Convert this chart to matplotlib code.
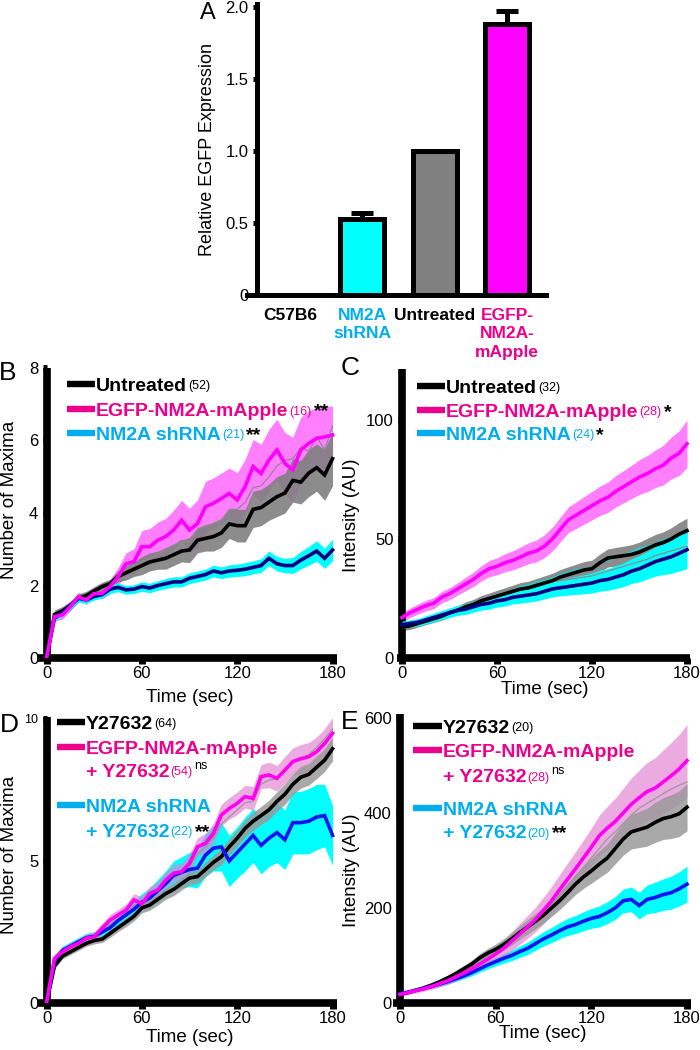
import matplotlib
matplotlib.use('Agg')
import matplotlib.pyplot as plt
from matplotlib.lines import Line2D
import numpy as np

plt.rcParams['font.family'] = ['Liberation Sans', 'DejaVu Sans']

# ---------------- data ----------------
# Panel A
bar_labels = ['C57B6', 'NM2A\nshRNA', 'Untreated', 'EGFP-\nNM2A-\nmApple']
bar_label_colors = ['#000000', '#00aeef', '#000000', '#ec008c']
bar_vals = [0.0, 0.53, 1.0, 1.88]
bar_errs = [0.0, 0.04, 0.0, 0.09]
bar_colors = ['#ffffff', '#00ffff', '#808080', '#ff00ff']

time_s = [0, 5, 10, 15, 20, 25, 30, 35, 40, 45, 50, 55, 60, 65, 70, 75, 80, 85, 90,
          95, 100, 105, 110, 115, 120, 125, 130, 135, 140, 145, 150, 155, 160, 165, 170, 175, 180]

# Panel B: number of maxima
B_untr = [0, 1.2, 1.3, 1.45, 1.65, 1.72, 1.85, 1.97, 2.05, 2.25, 2.35, 2.45, 2.55, 2.65, 2.7, 2.75, 2.85, 2.95, 2.98,
          3.25, 3.3, 3.35, 3.45, 3.7, 3.65, 3.65, 4.1, 4.15, 4.3, 4.45, 4.55, 4.9, 4.85, 5.1, 5.25, 5.05, 5.5]
B_untr_err = [0, .12, .12, .12, .12, .12, .12, .12, .12, .15, .2, .2, .25, .25, .25, .3, .3, .3, .35,
              .35, .35, .4, .4, .4, .45, .45, .5, .5, .5, .55, .55, .6, .6, .65, .65, .7, .75]
B_egfp = [0, 1.14, 1.19, 1.42, 1.69, 1.6, 1.78, 1.78, 1.97, 2.24, 2.6, 2.66, 3.07, 3.07, 3.25, 3.35, 3.53, 3.8, 3.53,
          3.71, 4.17, 4.27, 4.4, 4.54, 4.36, 4.73, 5.28, 5.09, 5.46, 5.74, 5.37, 5.19, 5.74, 5.92, 6.06, 6.1, 6.15]
B_egfp_err = [0, .12, .12, .12, .12, .12, .12, .15, .2, .25, .3, .35, .45, .5, .5, .5, .55, .55, .6,
              .65, .7, .7, .7, .7, .75, .75, .75, .8, .85, .85, .85, .9, .9, .9, .85, .85, .8]
B_sh = [0, 1.1, 1.25, 1.45, 1.65, 1.6, 1.7, 1.75, 1.9, 1.95, 1.88, 1.9, 1.97, 1.93, 2.0, 2.05, 2.1, 2.1, 2.2,
        2.25, 2.3, 2.4, 2.35, 2.4, 2.42, 2.45, 2.5, 2.55, 2.75, 2.6, 2.55, 2.55, 2.7, 2.82, 2.95, 2.75, 2.98]
B_sh_err = [0, .1, .1, .1, .1, .1, .1, .1, .12, .12, .12, .12, .13, .13, .13, .14, .14, .14, .15,
            .15, .15, .16, .16, .17, .17, .18, .18, .19, .2, .2, .2, .22, .24, .26, .28, .28, .3]
B_thin = [0, 1.15, 1.25, 1.4, 1.65, 1.65, 1.8, 1.85, 2.0, 2.3, 2.45, 2.55, 2.65, 2.75, 2.85, 3.0, 3.1, 3.25, 3.2,
          3.55, 3.65, 3.7, 3.8, 4.1, 4.1, 4.3, 4.7, 4.75, 5.0, 5.3, 5.45, 5.5, 5.8, 5.7, 6.1, 5.75, 6.4]

# Panel C: intensity
C_untr = [13, 13.5, 14.5, 15.5, 16.5, 17.5, 19, 20, 21.5, 22.5, 24, 25, 26, 27, 28, 29, 29.5, 30.5, 31.5,
          32.5, 34, 35, 36, 37, 37.5, 40, 42, 42.5, 43, 43.5, 44.5, 46, 47.5, 48.5, 50, 52, 53.5]
C_untr_err = [1.5, 1.5, 1.5, 1.5, 1.6, 1.7, 1.8, 1.9, 2, 2.1, 2.2, 2.3, 2.4, 2.5, 2.6, 2.7, 2.8, 2.9, 3,
              3.1, 3.2, 3.3, 3.4, 3.5, 3.6, 3.7, 3.8, 3.9, 4, 4.1, 4.2, 4.3, 4.4, 4.5, 4.7, 4.9, 5.2]
C_egfp = [17, 19, 20.5, 22, 23, 25.5, 27, 29, 31, 33, 35.5, 37.5, 38.5, 40, 41, 42.5, 44, 45, 47,
          50, 54, 58, 60, 62, 64, 66, 67.5, 70, 72, 74, 76, 77.5, 79.5, 81, 84, 86, 90]
C_egfp_err = [2, 2, 2.1, 2.2, 2.3, 2.4, 2.5, 2.6, 2.8, 3, 3.2, 3.4, 3.6, 3.8, 4, 4.2, 4.4, 4.6, 4.8,
              5, 5.2, 5.4, 5.6, 5.8, 6, 6.2, 6.4, 6.6, 6.8, 7, 7.3, 7.6, 7.9, 8.3, 8.8, 9.4, 10]
C_sh = [14, 14.5, 15, 16, 17, 18, 19, 20, 20.5, 21.5, 22.5, 23, 24, 24.5, 25.5, 26, 26.5, 27, 28,
        29, 29.5, 30, 30.5, 31, 31.5, 32.5, 33, 34, 35, 36.5, 37.5, 39, 40.5, 41.5, 42.5, 44, 45.5]
C_sh_err = [1.5, 1.5, 1.6, 1.7, 1.8, 1.9, 2, 2.1, 2.2, 2.3, 2.4, 2.5, 2.6, 2.7, 2.8, 2.9, 3, 3.1, 3.2,
            3.3, 3.4, 3.6, 3.8, 4, 4.2, 4.4, 4.6, 4.8, 5, 5.2, 5.5, 5.8, 6.1, 6.5, 7, 7.5, 8]
C_thin = [13.5, 14, 15, 16, 17, 18, 19.5, 20.5, 21.5, 22.5, 23.5, 24.5, 25.5, 26.5, 27.5, 28.5, 29, 30, 31,
          32, 32.5, 33, 33.5, 34, 34.5, 35.5, 36.5, 37.5, 38.5, 39.5, 40.5, 41.5, 43, 44, 45, 46, 47]
C_thin_cyan = [12.5, 13.5, 14.5, 15.5, 16.5, 17.5, 19, 20, 21.5, 22.5, 24, 25.5, 26.5, 27.5, 28.5, 30, 30.5, 32, 32.5,
               33.5, 35, 36, 37, 37.5, 38, 40, 41, 42, 43.5, 44.5, 46, 47, 48, 49.5, 50.5, 51.5, 52.5]

# Panel D: number of maxima + Y27632
D_y = [0, 1.3, 1.65, 1.8, 1.95, 2.1, 2.2, 2.25, 2.45, 2.65, 2.85, 3.05, 3.35, 3.45, 3.65, 3.85, 4.0, 4.2, 4.4,
       4.45, 4.7, 4.95, 5.15, 5.5, 5.8, 6.15, 6.4, 6.6, 6.8, 7.1, 7.35, 7.7, 7.95, 8.05, 8.3, 8.55, 8.95]
D_y_err = [0, .1, .1, .1, .1, .1, .12, .12, .14, .14, .16, .16, .18, .18, .2, .2, .22, .22, .24,
           .24, .26, .26, .28, .28, .3, .3, .32, .32, .34, .34, .36, .36, .38, .38, .4, .4, .42]
D_egfp = [0, 1.57, 1.8, 1.98, 2.1, 2.28, 2.33, 2.63, 2.92, 3.1, 3.27, 3.63, 3.5, 3.86, 3.98, 4.33, 4.57, 4.62, 4.92,
          5.5, 5.62, 5.97, 6.62, 6.85, 7.03, 7.27, 7.2, 7.97, 8.03, 7.91, 8.2, 8.5, 8.6, 8.67, 8.85, 9.14, 9.5]
D_egfp_err = [0, .15, .15, .15, .15, .15, .18, .18, .2, .2, .22, .22, .25, .25, .28, .28, .3, .3, .32,
              .32, .35, .35, .38, .38, .4, .4, .42, .42, .45, .45, .48, .48, .5, .5, .52, .52, .55]
D_sh = [0, 1.5, 1.85, 2.0, 2.15, 2.3, 2.35, 2.5, 2.65, 2.9, 3.1, 3.3, 3.55, 3.7, 3.95, 4.2, 4.5, 4.6, 4.7,
        4.75, 5.2, 5.45, 5.5, 5.0, 5.3, 5.6, 5.9, 5.55, 5.8, 6.0, 5.75, 6.35, 6.35, 6.4, 6.55, 6.6, 5.9]
D_sh_err = [0, .15, .15, .15, .15, .15, .15, .18, .2, .22, .25, .28, .3, .35, .4, .45, .5, .55, .6,
            .7, .75, .8, .85, .9, .9, .95, .95, 1, 1, 1.05, 1.05, 1.1, 1.1, 1.15, 1.15, 1.1, 1.05]
D_thin = [0, 1.45, 1.75, 1.9, 2.05, 2.2, 2.3, 2.5, 2.75, 2.95, 3.15, 3.45, 3.45, 3.75, 3.9, 4.2, 4.4, 4.55, 4.8,
          5.25, 5.5, 5.8, 6.3, 6.55, 6.8, 7.05, 7.1, 7.7, 7.85, 7.9, 8.15, 8.45, 8.6, 8.75, 9.0, 9.3, 9.65]

# Panel E: intensity + Y27632
E_y = [18, 22, 27, 32, 38, 45, 53, 62, 72, 82, 95, 105, 113, 123, 135, 148, 160, 172, 185,
       200, 215, 232, 250, 265, 278, 292, 305, 325, 345, 360, 365, 370, 380, 388, 392, 398, 412]
E_y_err = [3, 3, 3, 4, 4, 5, 5, 6, 7, 8, 9, 10, 11, 12, 13, 14, 15, 16, 17,
           18, 19, 20, 22, 24, 26, 28, 30, 32, 34, 36, 38, 40, 42, 44, 46, 48, 50]
E_egfp = [18, 22, 26, 30, 35, 41, 47, 55, 63, 72, 82, 92, 103, 115, 130, 145, 160, 176, 195,
          215, 238, 260, 282, 305, 328, 352, 368, 382, 400, 418, 432, 445, 452, 465, 478, 492, 510]
E_egfp_err = [4, 4, 5, 5, 6, 7, 8, 9, 10, 11, 12, 14, 16, 18, 20, 22, 24, 26, 28,
              30, 32, 34, 36, 38, 40, 43, 46, 49, 52, 55, 58, 61, 64, 67, 70, 73, 76]
E_sh = [20, 23, 27, 31, 35, 40, 45, 51, 57, 64, 72, 80, 87, 94, 100, 108, 115, 125, 135,
        143, 152, 160, 165, 172, 178, 182, 190, 200, 215, 218, 205, 218, 222, 228, 232, 240, 250]
E_sh_err = [3, 3, 3, 4, 4, 5, 5, 6, 6, 7, 7, 8, 9, 10, 11, 12, 13, 14, 15,
            16, 17, 18, 19, 20, 21, 22, 23, 24, 25, 26, 28, 30, 32, 33, 35, 36, 38]
E_thin = [18, 22, 26, 31, 36, 43, 50, 58, 67, 77, 88, 98, 108, 119, 132, 146, 160, 175, 191,
          208, 226, 246, 265, 285, 305, 325, 345, 360, 378, 395, 410, 420, 430, 440, 450, 458, 465]

# ---------------- figure ----------------
W, H = 700, 1050
fig = plt.figure(figsize=(7, 10.5), dpi=100)
renderer = fig.canvas.get_renderer()


def ax_px(left, right, top, bottom):
    ax = fig.add_axes([left / W, 1 - bottom / H, (right - left) / W, (bottom - top) / H])
    ax.patch.set_visible(False)
    return ax


def ftext(x, y, s, **kw):
    return fig.text(x / W, 1 - y / H, s, **kw)


# ---- Panel A ----
axA = ax_px(247, 546, 4, 295)
xpos = np.arange(len(bar_vals))
axA.bar(xpos, bar_vals, width=0.61, color=bar_colors, edgecolor='black', linewidth=3.6, zorder=3)
for xi, v, e in zip(xpos, bar_vals, bar_errs):
    if e > 0:
        axA.errorbar([xi], [v], yerr=[[0], [e]], fmt='none', ecolor='black', elinewidth=3.6,
                     capsize=8, capthick=3.6, zorder=2)
axA.set_xlim(-0.594, 3.54)
axA.set_ylim(0, 2.02)
for s in ['top', 'right']:
    axA.spines[s].set_visible(False)
axA.spines['left'].set_position(('data', -0.456))
axA.spines['left'].set_linewidth(3.6)
axA.spines['bottom'].set_linewidth(3.6)
axA.set_yticks([0, 0.5, 1.0, 1.5, 2.0])
axA.set_yticklabels(['0', '0.5', '1.0', '1.5', '2.0'], fontsize=12)
axA.tick_params(axis='y', length=3, width=3.6, pad=3)
axA.set_xticks(xpos)
axA.set_xticklabels(bar_labels, fontsize=12.5, fontweight='bold', linespacing=1.32)
for lab, c in zip(axA.get_xticklabels(), bar_label_colors):
    lab.set_color(c)
axA.tick_params(axis='x', length=0, pad=9)
ftext(207, 150, 'Relative EGFP Expression', fontsize=13, rotation=90, ha='center', va='center')


# ---- line panels ----
def line_panel(rect, xlim, ylim, yticks, yticklabels, bands, thins, lines):
    ax = ax_px(*rect)
    t = np.array(time_s)
    for m, e, col, a, z in bands:
        m = np.array(m); e = np.array(e)
        ax.fill_between(t, m - e, m + e, color=col, alpha=a, linewidth=0, zorder=z)
    for y, col in thins:
        ax.plot(t, y, color=col, lw=0.9, zorder=4)
    for y, col, z in lines:
        ax.plot(t, y, color=col, lw=2.6, zorder=z, solid_joinstyle='miter')
    ax.set_xlim(*xlim)
    ax.set_ylim(*ylim)
    for s in ['top', 'right']:
        ax.spines[s].set_visible(False)
    ax.spines['left'].set_position(('data', 0))
    for s in ['left', 'bottom']:
        ax.spines[s].set_linewidth(5.5)
        ax.spines[s].set_capstyle('butt')
    ax.set_xticks([0, 60, 120, 180])
    ax.set_xticklabels(['0', '60', '120', '180'], fontsize=12)
    ax.set_yticks(yticks)
    ax.set_yticklabels(yticklabels, fontsize=12)
    ax.tick_params(axis='x', length=4, width=5, pad=2)
    ax.tick_params(axis='y', length=3, width=5, pad=3)
    return ax


MAG_BAND = '#ff00ff'
axB = line_panel((38, 337, 368, 658), (-5.35, 182.8), (0, 8), [0, 2, 4, 6, 8], ['0', '2', '4', '6', '8'],
                 [(B_egfp, B_egfp_err, MAG_BAND, 0.5, 1), (B_untr, B_untr_err, '#808080', 0.9, 2),
                  (B_sh, B_sh_err, '#00ffff', 1.0, 3)],
                 [(B_thin, '#8c8c8c')],
                 [(B_untr, '#000000', 5), (B_sh, '#000080', 6), (B_egfp, '#ff00ff', 7)])

axC = line_panel((397, 690, 369, 658), (-3.16, 181.9), (0, 121.4), [0, 50, 100], ['0', '50', '100'],
                 [(C_egfp, C_egfp_err, MAG_BAND, 0.5, 1), (C_untr, C_untr_err, '#808080', 0.9, 2),
                  (C_sh, C_sh_err, '#00ffff', 1.0, 3)],
                 [(C_thin, '#8c8c8c'), (C_thin_cyan, '#00e5e5')],
                 [(C_untr, '#000000', 5), (C_sh, '#000080', 6), (C_egfp, '#ff00ff', 7)])

axD = line_panel((38, 337, 717, 1003), (-5.35, 182.8), (0, 10.07), [0, 5, 10], ['0', '5', '10'],
                 [(D_egfp, D_egfp_err, '#e27fd0', 0.65, 1), (D_y, D_y_err, '#9a9a9a', 0.85, 2),
                  (D_sh, D_sh_err, '#00ffff', 1.0, 0)],
                 [(D_thin, '#9a9a9a')],
                 [(D_y, '#000000', 5), (D_sh, '#1414f0', 6), (D_egfp, '#ff00f0', 7)])
axD.get_yticklabels()[2].set_fontsize(9)

axE = line_panel((393, 691, 714, 1003), (-4.4, 182.5), (0, 608), [0, 200, 400, 600], ['0', '200', '400', '600'],
                 [(E_egfp, E_egfp_err, '#e27fd0', 0.65, 1), (E_y, E_y_err, '#9a9a9a', 0.85, 2),
                  (E_sh, E_sh_err, '#00ffff', 1.0, 0)],
                 [(E_thin, '#9a9a9a')],
                 [(E_y, '#000000', 5), (E_sh, '#1414f0', 6), (E_egfp, '#ff00f0', 7)])

# axis titles
ftext(10, 500, 'Number of Maxima', fontsize=13.5, rotation=90, ha='center', va='center')
ftext(352, 515, 'Intensity (AU)', fontsize=13.5, rotation=90, ha='center', va='center')
ftext(10, 855, 'Number of Maxima', fontsize=13.5, rotation=90, ha='center', va='center')
ftext(351, 870, 'Intensity (AU)', fontsize=13.5, rotation=90, ha='center', va='center')
ftext(190, 697, 'Time (sec)', fontsize=13.5, ha='center', va='center')
ftext(545, 690, 'Time (sec)', fontsize=13.5, ha='center', va='center')
ftext(190, 1037, 'Time (sec)', fontsize=13.5, ha='center', va='center')
ftext(543, 1033, 'Time (sec)', fontsize=13.5, ha='center', va='center')

# panel letters
for letter, x, y, fs in [('A', 208, 13, 17), ('B', 8, 373, 19), ('C', 350, 368, 19),
                         ('D', 9, 725, 19), ('E', 350, 722, 19)]:
    ftext(x, y, letter, fontsize=fs, ha='center', va='center')

# ---- legends ----
PINK = '#ec008c'
CYAN = '#00aeef'


def seg(x0, x1, y, color):
    fig.add_artist(Line2D([x0 / W, x1 / W], [1 - y / H] * 2, lw=4.6, color=color,
                          transform=fig.transFigure, solid_capstyle='butt'))


def rich(x, y, parts):
    for s, size, weight, color, dy, gap in parts:
        t = ftext(x, y - dy, s, fontsize=size, fontweight=weight, color=color, ha='left', va='baseline')
        bb = t.get_window_extent(renderer)
        x += bb.width + gap


def name(s, c):
    return (s, 14, 'bold', c, 0, 1)


def cnt(s, c):
    return (s, 9, 'normal', c, 1.5, 2)


def star(s):
    return (s, 14, 'bold', '#000000', 0, 0)


def ns():
    return ('ns', 9, 'normal', '#000000', 8, 0)


# B
seg(67, 95, 384, '#000000'); rich(96, 391, [name('Untreated', '#000000'), cnt('(52)', '#000000')])
seg(67, 95, 409, PINK); rich(96, 416, [name('EGFP-NM2A-mApple', PINK), cnt('(16)', PINK), star('**')])
seg(67, 95, 433, CYAN); rich(96, 440, [name('NM2A shRNA', CYAN), cnt('(21)', CYAN), star('**')])
# C
seg(417, 445, 386, '#000000'); rich(446, 393, [name('Untreated', '#000000'), cnt('(32)', '#000000')])
seg(417, 445, 410, PINK); rich(446, 417, [name('EGFP-NM2A-mApple', PINK), cnt('(28)', PINK), star('*')])
seg(417, 445, 433, CYAN); rich(446, 440, [name('NM2A shRNA', CYAN), cnt('(24)', CYAN), star('*')])
# D
seg(57, 85, 722, '#000000'); rich(86, 729, [name('Y27632', '#000000'), cnt('(64)', '#000000')])
seg(57, 85, 747, PINK); rich(86, 754, [name('EGFP-NM2A-mApple', PINK)])
rich(86, 777, [name('+ Y27632', PINK), cnt('(54)', PINK), ns()])
seg(57, 85, 805, CYAN); rich(86, 812, [name('NM2A shRNA', CYAN)])
rich(86, 837, [name('+ Y27632', CYAN), cnt('(22)', CYAN), star('**')])
# E
seg(413, 442, 726, '#000000'); rich(443, 733, [name('Y27632', '#000000'), cnt('(20)', '#000000')])
seg(413, 442, 750, PINK); rich(443, 757, [name('EGFP-NM2A-mApple', PINK)])
rich(443, 782, [name('+ Y27632', PINK), cnt('(28)', PINK), ns()])
seg(413, 442, 808, CYAN); rich(443, 815, [name('NM2A shRNA', CYAN)])
rich(443, 838, [name('+ Y27632', CYAN), cnt('(20)', CYAN), star('**')])

fig.savefig('out.png', dpi=100)
